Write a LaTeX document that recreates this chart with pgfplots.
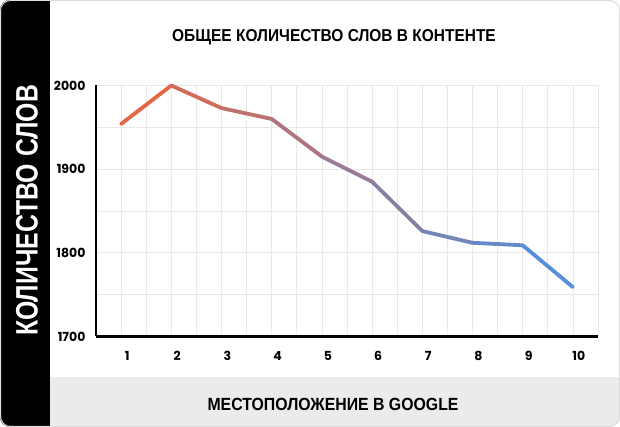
\documentclass[border=0pt]{standalone}
\usepackage{fontspec}
\setmainfont{Liberation Sans}
\newfontfamily\condfont{Liberation Sans}[FakeStretch=0.9]
\newfontfamily\ylabfont{Liberation Sans}[FakeStretch=0.8]
\newfontfamily\tickfont{Poppins}
\usepackage{pgfplots}
\pgfplotsset{compat=1.18}
\definecolor{bandgray}{HTML}{EBEBEB}
\definecolor{gridgray}{HTML}{E8E8E8}
\definecolor{bordergray}{HTML}{DDDDDD}
\begin{document}
\begin{tikzpicture}
\begin{scope}
\clip[rounded corners=10pt] (0pt,0pt) rectangle (620pt,427pt);
\fill[white] (0pt,0pt) rectangle (620pt,427pt);
\fill[black] (0pt,0pt) rectangle (50pt,427pt);
\fill[bandgray] (50pt,0pt) rectangle (620pt,50.3pt);
\end{scope}
\draw[bordergray, line width=1pt, rounded corners=10pt] (0.5pt,0.5pt) rectangle (619.5pt,426.5pt);
\node[white, rotate=90, inner sep=0pt, font=\ylabfont\bfseries\fontsize{31}{31}\selectfont] at (27pt,216.5pt) {КОЛИЧЕСТВО СЛОВ};
\node[font=\condfont\bfseries\fontsize{17.2}{17}\selectfont] at (334pt,390pt) {ОБЩЕЕ КОЛИЧЕСТВО СЛОВ В КОНТЕНТЕ};
\node[font=\condfont\bfseries\fontsize{17.6}{17}\selectfont] at (333pt,23pt) {МЕСТОПОЛОЖЕНИЕ В GOOGLE};
\begin{axis}[
  at={(96pt,90.5pt)}, anchor=south west, scale only axis,
  width=502pt, height=251pt,
  xmin=0.5, xmax=10.5, ymin=1700, ymax=2000,
  axis lines=left, axis line style={-, line width=2.7pt, black},
  xtick={1,...,10}, minor xtick={1.5,2.5,...,10.5},
  ytick={1700,1800,1900,2000}, minor ytick={1750,1850,1950},
  major tick length=0pt, minor tick length=0pt,
  grid=both,
  grid style={draw=gridgray, line width=0.8pt},
  minor grid style={draw=gridgray, line width=0.8pt},
  /pgf/number format/assume math mode=true,
  /pgf/number format/1000 sep={},
  tick label style={font=\tickfont\bfseries\fontsize{12.5}{13}\selectfont},
  xticklabel style={yshift=-11pt, xshift=6pt},
  yticklabel style={xshift=-7pt},
  clip=false,
  colormap={grad}{rgb255=(236,100,62) rgb255=(74,146,228)},
  point meta min=1, point meta max=10,
]
\addplot[mesh, point meta=x, line width=3.8pt, line cap=round, line join=round] coordinates {
(1,1954) (2,2000) (3,1973) (4,1960) (5,1915) (6,1885) (7,1826) (8,1812) (9,1809) (10,1759)
};
\end{axis}
\end{tikzpicture}
\end{document}
